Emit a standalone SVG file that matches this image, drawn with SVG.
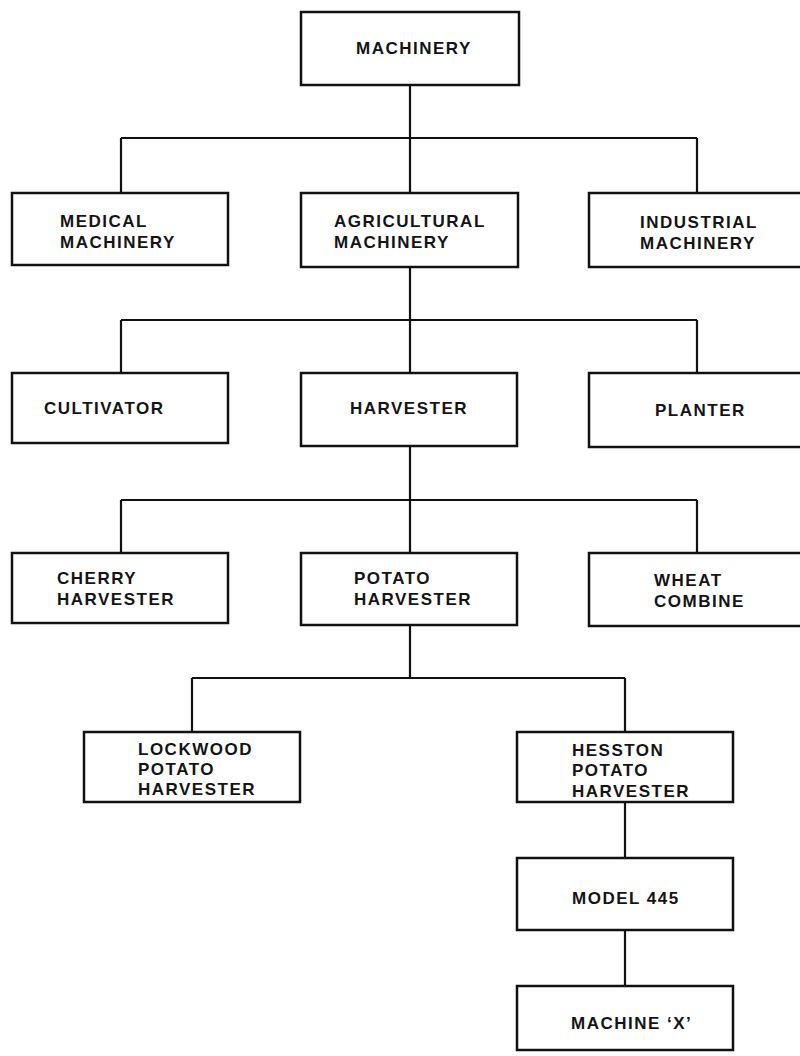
<svg xmlns="http://www.w3.org/2000/svg" width="800" height="1056" viewBox="0 0 800 1056">
  <style>
    .box { fill: #ffffff; stroke: #111111; stroke-width: 2.5; }
    .wire { fill: none; stroke: #111111; stroke-width: 2.2; }
    .lbl { font-family: "Liberation Sans", Arial, sans-serif; font-weight: bold; font-size: 17px; letter-spacing: 1.5px; fill: #141414; }
  </style>
  <rect width="800" height="1056" fill="#ffffff"/>

  <!-- connectors: vertical stems and horizontal bus lines -->
  <g id="connectors">
    <path class="wire" d="M410,85 V138 M121,138 H697 M121,138 V193 M410,138 V193 M697,138 V193"/>
    <path class="wire" d="M410,267 V320 M121,320 H697 M121,320 V373 M410,320 V373 M697,320 V373"/>
    <path class="wire" d="M410,446 V500 M121,500 H697 M121,500 V553 M410,500 V553 M697,500 V553"/>
    <path class="wire" d="M410,625 V678 M192,678 H625 M192,678 V732 M625,678 V732"/>
    <path class="wire" d="M625,802 V858 M625,930 V986"/>
  </g>

  <g id="machinery">
    <rect class="box" x="301" y="12" width="218" height="73"/>
    <text class="lbl" x="356" y="54">MACHINERY</text>
  </g>

  <g id="medical-machinery">
    <rect class="box" x="12" y="193" width="216" height="72"/>
    <text class="lbl" x="60" y="227">MEDICAL</text>
    <text class="lbl" x="60" y="248">MACHINERY</text>
  </g>
  <g id="agricultural-machinery">
    <rect class="box" x="301" y="193" width="217" height="74"/>
    <text class="lbl" x="334" y="227">AGRICULTURAL</text>
    <text class="lbl" x="334" y="248">MACHINERY</text>
  </g>
  <g id="industrial-machinery">
    <rect class="box" x="589" y="193" width="217" height="74"/>
    <text class="lbl" x="640" y="228">INDUSTRIAL</text>
    <text class="lbl" x="640" y="249">MACHINERY</text>
  </g>

  <g id="cultivator">
    <rect class="box" x="12" y="373" width="216" height="70"/>
    <text class="lbl" x="44" y="414">CULTIVATOR</text>
  </g>
  <g id="harvester">
    <rect class="box" x="301" y="373" width="216" height="73"/>
    <text class="lbl" x="350" y="414">HARVESTER</text>
  </g>
  <g id="planter">
    <rect class="box" x="589" y="373" width="217" height="74"/>
    <text class="lbl" x="655" y="416">PLANTER</text>
  </g>

  <g id="cherry-harvester">
    <rect class="box" x="12" y="553" width="216" height="70"/>
    <text class="lbl" x="57" y="584">CHERRY</text>
    <text class="lbl" x="57" y="605">HARVESTER</text>
  </g>
  <g id="potato-harvester">
    <rect class="box" x="301" y="553" width="216" height="72"/>
    <text class="lbl" x="354" y="584">POTATO</text>
    <text class="lbl" x="354" y="605">HARVESTER</text>
  </g>
  <g id="wheat-combine">
    <rect class="box" x="589" y="553" width="217" height="73"/>
    <text class="lbl" x="654" y="586">WHEAT</text>
    <text class="lbl" x="654" y="607">COMBINE</text>
  </g>

  <g id="lockwood-potato-harvester">
    <rect class="box" x="84" y="732" width="216" height="70"/>
    <text class="lbl" x="138" y="755">LOCKWOOD</text>
    <text class="lbl" x="138" y="775">POTATO</text>
    <text class="lbl" x="138" y="795">HARVESTER</text>
  </g>
  <g id="hesston-potato-harvester">
    <rect class="box" x="517" y="732" width="216" height="70"/>
    <text class="lbl" x="572" y="756">HESSTON</text>
    <text class="lbl" x="572" y="776">POTATO</text>
    <text class="lbl" x="572" y="797">HARVESTER</text>
  </g>

  <g id="model-445">
    <rect class="box" x="517" y="858" width="216" height="72"/>
    <text class="lbl" x="572" y="904">MODEL 445</text>
  </g>
  <g id="machine-x">
    <rect class="box" x="517" y="986" width="216" height="64"/>
    <text class="lbl" x="571" y="1029">MACHINE ‘X’</text>
  </g>
</svg>
